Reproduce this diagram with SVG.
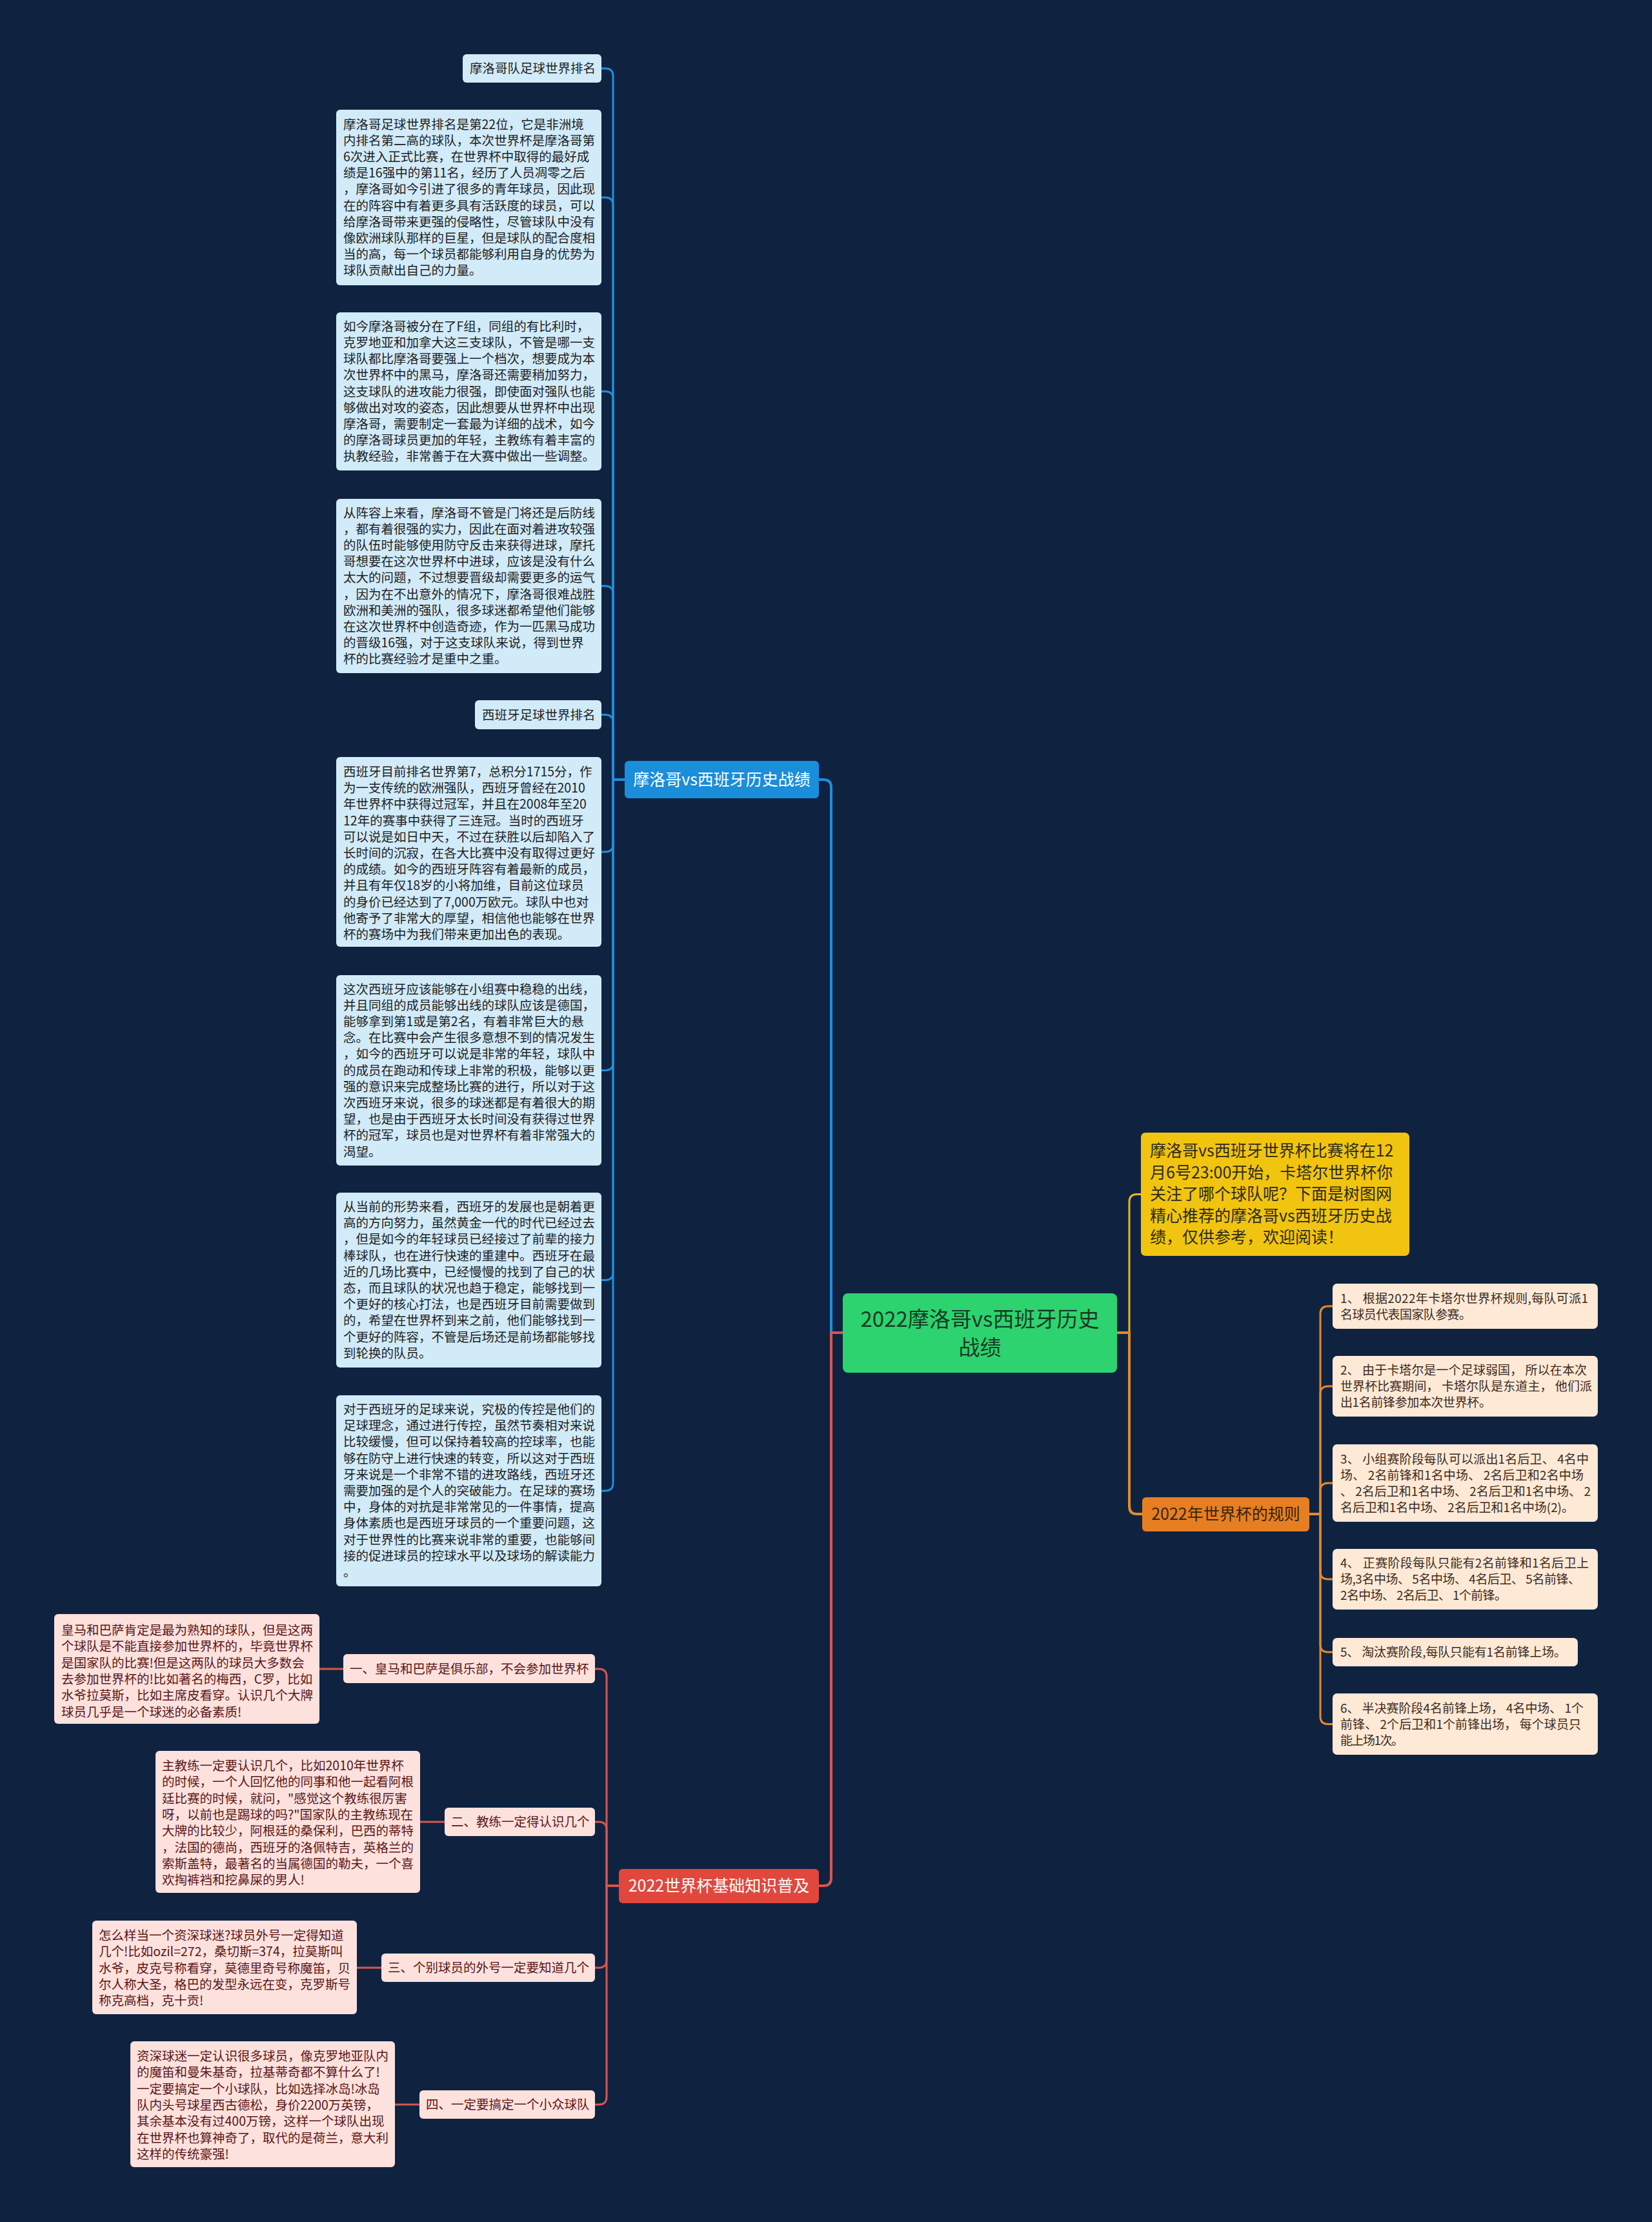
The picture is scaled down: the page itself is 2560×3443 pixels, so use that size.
<svg xmlns="http://www.w3.org/2000/svg" width="2560" height="3443" viewBox="0 0 2560 3443">
<style>
text{font-family:"Noto Sans CJK SC","Noto Sans",sans-serif}
.bg{fill:#0f2341}
.bnode{fill:#d1ebf8}
.bt{font-size:19.5px;fill:#1e2124}
.pnode{fill:#fce1dd}
.pt{font-size:19.5px;fill:#5a1616}
.onode{fill:#fde9d5}
.ot{font-size:19px;fill:#3c2a1e}
.c{fill:none;stroke-linecap:round;stroke-linejoin:round}
.cb{stroke:#1f8fdf;stroke-width:3}
.cbm{stroke:#1f8fdf;stroke-width:4}
.cr{stroke:#d9564d;stroke-width:3}
.crm{stroke:#d9564d;stroke-width:4}
.co{stroke:#e38a2c;stroke-width:3}
.com{stroke:#e38a2c;stroke-width:4}
.cy{stroke:#e6bb16;stroke-width:3}
</style>
<rect class="bg" x="0" y="0" width="2560" height="3443"/>

<g id="connectors">
  <!-- root to main branches -->
  <path class="c cbm" d="M1306 2065 H1288 V1220 Q1288 1208 1276 1208 H1269"/>
  <path class="c crm" d="M1306 2065 H1288 V2910 Q1288 2922 1276 2922 H1269"/>
  <path class="c cy" d="M1731 2065 H1750 V1862.5 Q1750 1850.5 1762 1850.5 H1768"/>
  <path class="c com" d="M1731 2065 H1750 V2334 Q1750 2346 1762 2346 H1770"/>
  <!-- blue subtree -->
  <path class="c cb" d="M968 1208 H950 V118 Q950 106 938 106 H932"/>
  <path class="c cb" d="M968 1208 H950 V318 Q950 306 938 306 H932"/>
  <path class="c cb" d="M968 1208 H950 V618.5 Q950 606.5 938 606.5 H932"/>
  <path class="c cb" d="M968 1208 H950 V920 Q950 908 938 908 H932"/>
  <path class="c cb" d="M968 1208 H950 V1119.5 Q950 1107.5 938 1107.5 H932"/>
  <path class="c cb" d="M968 1208 H950 V1308 Q950 1320 938 1320 H932"/>
  <path class="c cb" d="M968 1208 H950 V1646.5 Q950 1658.5 938 1658.5 H932"/>
  <path class="c cb" d="M968 1208 H950 V1971.5 Q950 1983.5 938 1983.5 H932"/>
  <path class="c cb" d="M968 1208 H950 V2298 Q950 2310 938 2310 H932"/>
  <!-- red subtree -->
  <path class="c cr" d="M959 2922 H940 V2598 Q940 2586 928 2586 H922"/>
  <path class="c cr" d="M959 2922 H940 V2835 Q940 2823 928 2823 H922"/>
  <path class="c cr" d="M959 2922 H940 V3037 Q940 3049 928 3049 H922"/>
  <path class="c cr" d="M959 2922 H940 V3249 Q940 3261 928 3261 H922"/>
  <path class="c cr" d="M532 2586 H495"/>
  <path class="c cr" d="M689 2823 H651"/>
  <path class="c cr" d="M591 3049 H553"/>
  <path class="c cr" d="M650 3261 H612"/>
  <!-- orange subtree -->
  <path class="c co" d="M2029 2346 H2046 V2036 Q2046 2024 2058 2024 H2065"/>
  <path class="c co" d="M2029 2346 H2046 V2160 Q2046 2148 2058 2148 H2065"/>
  <path class="c co" d="M2029 2346 H2046 V2310 Q2046 2298 2058 2298 H2065"/>
  <path class="c co" d="M2029 2346 H2046 V2435 Q2046 2447 2058 2447 H2065"/>
  <path class="c co" d="M2029 2346 H2046 V2548 Q2046 2560 2058 2560 H2065"/>
  <path class="c co" d="M2029 2346 H2046 V2659.5 Q2046 2671.5 2058 2671.5 H2065"/>
</g>

<g id="root">
  <rect x="1306" y="2004" width="425" height="123" rx="8" fill="#2dd36f"/>
  <text x="1518.5" y="2056" font-size="33" fill="#173a24" text-anchor="middle">2022摩洛哥vs西班牙历史</text>
  <text x="1518.5" y="2100" font-size="33" fill="#173a24" text-anchor="middle">战绩</text>
</g>

<g id="branch-blue">
  <rect x="968" y="1179" width="301" height="58" rx="6" fill="#1a8ddb"/>
  <text x="1118.5" y="1217" font-size="25" fill="#ffffff" text-anchor="middle">摩洛哥vs西班牙历史战绩</text>
</g>

<g id="branch-red">
  <rect x="959" y="2896" width="310" height="53" rx="6" fill="#e2473d"/>
  <text x="1114" y="2931" font-size="25" fill="#ffffff" text-anchor="middle">2022世界杯基础知识普及</text>
</g>

<g id="branch-yellow">
  <rect x="1768" y="1755" width="416" height="191" rx="7" fill="#f1c40f"/>
  <text font-size="25" fill="#2b2a1c">
    <tspan x="1782" y="1792">摩洛哥vs西班牙世界杯比赛将在12</tspan>
    <tspan x="1782" dy="33.6">月6号23:00开始，卡塔尔世界杯你</tspan>
    <tspan x="1782" dy="33.6">关注了哪个球队呢？下面是树图网</tspan>
    <tspan x="1782" dy="33.6">精心推荐的摩洛哥vs西班牙历史战</tspan>
    <tspan x="1782" dy="33.6">绩，仅供参考，欢迎阅读！</tspan>
  </text>
</g>

<g id="branch-orange">
  <rect x="1770" y="2320" width="259" height="53" rx="6" fill="#e67e22"/>
  <text x="1899.5" y="2355" font-size="25" fill="#3a2208" text-anchor="middle">2022年世界杯的规则</text>
</g>

<g id="b1">
  <rect class="bnode" x="717" y="84" width="215" height="44" rx="6"/>
  <text class="bt" x="728" y="113">摩洛哥队足球世界排名</text>
</g>
<g id="b2">
  <rect class="bnode" x="521" y="170" width="411" height="272" rx="6"/>
  <text class="bt">
    <tspan x="532" y="199.6">摩洛哥足球世界排名是第22位，它是非洲境</tspan>
    <tspan x="532" dy="25.2">内排名第二高的球队，本次世界杯是摩洛哥第</tspan>
    <tspan x="532" dy="25.2">6次进入正式比赛，在世界杯中取得的最好成</tspan>
    <tspan x="532" dy="25.2">绩是16强中的第11名，经历了人员凋零之后</tspan>
    <tspan x="532" dy="25.2">，摩洛哥如今引进了很多的青年球员，因此现</tspan>
    <tspan x="532" dy="25.2">在的阵容中有着更多具有活跃度的球员，可以</tspan>
    <tspan x="532" dy="25.2">给摩洛哥带来更强的侵略性，尽管球队中没有</tspan>
    <tspan x="532" dy="25.2">像欧洲球队那样的巨星，但是球队的配合度相</tspan>
    <tspan x="532" dy="25.2">当的高，每一个球员都能够利用自身的优势为</tspan>
    <tspan x="532" dy="25.2">球队贡献出自己的力量。</tspan>
  </text>
</g>
<g id="b3">
  <rect class="bnode" x="521" y="484" width="411" height="245" rx="6"/>
  <text class="bt">
    <tspan x="532" y="512.7">如今摩洛哥被分在了F组，同组的有比利时，</tspan>
    <tspan x="532" dy="25.2">克罗地亚和加拿大这三支球队，不管是哪一支</tspan>
    <tspan x="532" dy="25.2">球队都比摩洛哥要强上一个档次，想要成为本</tspan>
    <tspan x="532" dy="25.2">次世界杯中的黑马，摩洛哥还需要稍加努力，</tspan>
    <tspan x="532" dy="25.2">这支球队的进攻能力很强，即使面对强队也能</tspan>
    <tspan x="532" dy="25.2">够做出对攻的姿态，因此想要从世界杯中出现</tspan>
    <tspan x="532" dy="25.2">摩洛哥，需要制定一套最为详细的战术，如今</tspan>
    <tspan x="532" dy="25.2">的摩洛哥球员更加的年轻，主教练有着丰富的</tspan>
    <tspan x="532" dy="25.2">执教经验，非常善于在大赛中做出一些调整。</tspan>
  </text>
</g>
<g id="b4">
  <rect class="bnode" x="521" y="773" width="411" height="270" rx="6"/>
  <text class="bt">
    <tspan x="532" y="801.6">从阵容上来看，摩洛哥不管是门将还是后防线</tspan>
    <tspan x="532" dy="25.2">，都有着很强的实力，因此在面对着进攻较强</tspan>
    <tspan x="532" dy="25.2">的队伍时能够使用防守反击来获得进球，摩托</tspan>
    <tspan x="532" dy="25.2">哥想要在这次世界杯中进球，应该是没有什么</tspan>
    <tspan x="532" dy="25.2">太大的问题，不过想要晋级却需要更多的运气</tspan>
    <tspan x="532" dy="25.2">，因为在不出意外的情况下，摩洛哥很难战胜</tspan>
    <tspan x="532" dy="25.2">欧洲和美洲的强队，很多球迷都希望他们能够</tspan>
    <tspan x="532" dy="25.2">在这次世界杯中创造奇迹，作为一匹黑马成功</tspan>
    <tspan x="532" dy="25.2">的晋级16强，对于这支球队来说，得到世界</tspan>
    <tspan x="532" dy="25.2">杯的比赛经验才是重中之重。</tspan>
  </text>
</g>
<g id="b5">
  <rect class="bnode" x="736" y="1085" width="196" height="45" rx="6"/>
  <text class="bt" x="747" y="1114.5">西班牙足球世界排名</text>
</g>
<g id="b6">
  <rect class="bnode" x="521" y="1173" width="411" height="294" rx="6"/>
  <text class="bt">
    <tspan x="532" y="1203">西班牙目前排名世界第7，总积分1715分，作</tspan>
    <tspan x="532" dy="25.2">为一支传统的欧洲强队，西班牙曾经在2010</tspan>
    <tspan x="532" dy="25.2">年世界杯中获得过冠军，并且在2008年至20</tspan>
    <tspan x="532" dy="25.2">12年的赛事中获得了三连冠。当时的西班牙</tspan>
    <tspan x="532" dy="25.2">可以说是如日中天，不过在获胜以后却陷入了</tspan>
    <tspan x="532" dy="25.2">长时间的沉寂，在各大比赛中没有取得过更好</tspan>
    <tspan x="532" dy="25.2">的成绩。如今的西班牙阵容有着最新的成员，</tspan>
    <tspan x="532" dy="25.2">并且有年仅18岁的小将加维，目前这位球员</tspan>
    <tspan x="532" dy="25.2">的身价已经达到了7,000万欧元。球队中也对</tspan>
    <tspan x="532" dy="25.2">他寄予了非常大的厚望，相信他也能够在世界</tspan>
    <tspan x="532" dy="25.2">杯的赛场中为我们带来更加出色的表现。</tspan>
  </text>
</g>
<g id="b7">
  <rect class="bnode" x="521" y="1511" width="411" height="295" rx="6"/>
  <text class="bt">
    <tspan x="532" y="1539.5">这次西班牙应该能够在小组赛中稳稳的出线，</tspan>
    <tspan x="532" dy="25.2">并且同组的成员能够出线的球队应该是德国，</tspan>
    <tspan x="532" dy="25.2">能够拿到第1或是第2名，有着非常巨大的悬</tspan>
    <tspan x="532" dy="25.2">念。在比赛中会产生很多意想不到的情况发生</tspan>
    <tspan x="532" dy="25.2">，如今的西班牙可以说是非常的年轻，球队中</tspan>
    <tspan x="532" dy="25.2">的成员在跑动和传球上非常的积极，能够以更</tspan>
    <tspan x="532" dy="25.2">强的意识来完成整场比赛的进行，所以对于这</tspan>
    <tspan x="532" dy="25.2">次西班牙来说，很多的球迷都是有着很大的期</tspan>
    <tspan x="532" dy="25.2">望，也是由于西班牙太长时间没有获得过世界</tspan>
    <tspan x="532" dy="25.2">杯的冠军，球员也是对世界杯有着非常强大的</tspan>
    <tspan x="532" dy="25.2">渴望。</tspan>
  </text>
</g>
<g id="b8">
  <rect class="bnode" x="521" y="1848" width="411" height="271" rx="6"/>
  <text class="bt">
    <tspan x="532" y="1877">从当前的形势来看，西班牙的发展也是朝着更</tspan>
    <tspan x="532" dy="25.2">高的方向努力，虽然黄金一代的时代已经过去</tspan>
    <tspan x="532" dy="25.2">，但是如今的年轻球员已经接过了前辈的接力</tspan>
    <tspan x="532" dy="25.2">棒球队，也在进行快速的重建中。西班牙在最</tspan>
    <tspan x="532" dy="25.2">近的几场比赛中，已经慢慢的找到了自己的状</tspan>
    <tspan x="532" dy="25.2">态，而且球队的状况也趋于稳定，能够找到一</tspan>
    <tspan x="532" dy="25.2">个更好的核心打法，也是西班牙目前需要做到</tspan>
    <tspan x="532" dy="25.2">的，希望在世界杯到来之前，他们能够找到一</tspan>
    <tspan x="532" dy="25.2">个更好的阵容，不管是后场还是前场都能够找</tspan>
    <tspan x="532" dy="25.2">到轮换的队员。</tspan>
  </text>
</g>
<g id="b9">
  <rect class="bnode" x="521" y="2162" width="411" height="296" rx="6"/>
  <text class="bt">
    <tspan x="532" y="2191">对于西班牙的足球来说，究极的传控是他们的</tspan>
    <tspan x="532" dy="25.2">足球理念，通过进行传控，虽然节奏相对来说</tspan>
    <tspan x="532" dy="25.2">比较缓慢，但可以保持着较高的控球率，也能</tspan>
    <tspan x="532" dy="25.2">够在防守上进行快速的转变，所以这对于西班</tspan>
    <tspan x="532" dy="25.2">牙来说是一个非常不错的进攻路线，西班牙还</tspan>
    <tspan x="532" dy="25.2">需要加强的是个人的突破能力。在足球的赛场</tspan>
    <tspan x="532" dy="25.2">中，身体的对抗是非常常见的一件事情，提高</tspan>
    <tspan x="532" dy="25.2">身体素质也是西班牙球员的一个重要问题，这</tspan>
    <tspan x="532" dy="25.2">对于世界性的比赛来说非常的重要，也能够间</tspan>
    <tspan x="532" dy="25.2">接的促进球员的控球水平以及球场的解读能力</tspan>
    <tspan x="532" dy="25.2">。</tspan>
  </text>
</g>

<g id="p1">
  <rect class="pnode" x="532" y="2563" width="390" height="45" rx="6"/>
  <text class="pt" x="542" y="2593">一、皇马和巴萨是俱乐部，不会参加世界杯</text>
</g>
<g id="p1d">
  <rect class="pnode" x="84" y="2501" width="411" height="170" rx="6"/>
  <text class="pt">
    <tspan x="95" y="2533">皇马和巴萨肯定是最为熟知的球队，但是这两</tspan>
    <tspan x="95" dy="25.3">个球队是不能直接参加世界杯的，毕竟世界杯</tspan>
    <tspan x="95" dy="25.3">是国家队的比赛!但是这两队的球员大多数会</tspan>
    <tspan x="95" dy="25.3">去参加世界杯的!比如著名的梅西，C罗，比如</tspan>
    <tspan x="95" dy="25.3">水爷拉莫斯，比如主席皮看穿。认识几个大牌</tspan>
    <tspan x="95" dy="25.3">球员几乎是一个球迷的必备素质!</tspan>
  </text>
</g>
<g id="p2">
  <rect class="pnode" x="689" y="2801" width="233" height="44" rx="6"/>
  <text class="pt" x="699" y="2830">二、教练一定得认识几个</text>
</g>
<g id="p2d">
  <rect class="pnode" x="241" y="2713" width="410" height="220" rx="6"/>
  <text class="pt">
    <tspan x="251" y="2743">主教练一定要认识几个，比如2010年世界杯</tspan>
    <tspan x="251" dy="25.3">的时候，一个人回忆他的同事和他一起看阿根</tspan>
    <tspan x="251" dy="25.3">廷比赛的时候，就问，"感觉这个教练很厉害</tspan>
    <tspan x="251" dy="25.3">呀，以前也是踢球的吗?"国家队的主教练现在</tspan>
    <tspan x="251" dy="25.3">大牌的比较少，阿根廷的桑保利，巴西的蒂特</tspan>
    <tspan x="251" dy="25.3">，法国的德尚，西班牙的洛佩特吉，英格兰的</tspan>
    <tspan x="251" dy="25.3">索斯盖特，最著名的当属德国的勒夫，一个喜</tspan>
    <tspan x="251" dy="25.3">欢掏裤裆和挖鼻屎的男人!</tspan>
  </text>
</g>
<g id="p3">
  <rect class="pnode" x="591" y="3027" width="331" height="44" rx="6"/>
  <text class="pt" x="601" y="3056">三、个别球员的外号一定要知道几个</text>
</g>
<g id="p3d">
  <rect class="pnode" x="143" y="2976" width="410" height="145" rx="6"/>
  <text class="pt">
    <tspan x="153" y="3006">怎么样当一个资深球迷?球员外号一定得知道</tspan>
    <tspan x="153" dy="25.3">几个!比如ozil=272，桑切斯=374，拉莫斯叫</tspan>
    <tspan x="153" dy="25.3">水爷，皮克号称看穿，莫德里奇号称魔笛，贝</tspan>
    <tspan x="153" dy="25.3">尔人称大圣，格巴的发型永远在变，克罗斯号</tspan>
    <tspan x="153" dy="25.3">称克高档，克十贡!</tspan>
  </text>
</g>
<g id="p4">
  <rect class="pnode" x="650" y="3239" width="272" height="44" rx="6"/>
  <text class="pt" x="660" y="3268">四、一定要搞定一个小众球队</text>
</g>
<g id="p4d">
  <rect class="pnode" x="202" y="3163" width="410" height="195" rx="6"/>
  <text class="pt">
    <tspan x="212" y="3193">资深球迷一定认识很多球员，像克罗地亚队内</tspan>
    <tspan x="212" dy="25.3">的魔笛和曼朱基奇，拉基蒂奇都不算什么了!</tspan>
    <tspan x="212" dy="25.3">一定要搞定一个小球队，比如选择冰岛!冰岛</tspan>
    <tspan x="212" dy="25.3">队内头号球星西古德松，身价2200万英镑，</tspan>
    <tspan x="212" dy="25.3">其余基本没有过400万镑，这样一个球队出现</tspan>
    <tspan x="212" dy="25.3">在世界杯也算神奇了，取代的是荷兰，意大利</tspan>
    <tspan x="212" dy="25.3">这样的传统豪强!</tspan>
  </text>
</g>

<g id="o1">
  <rect class="onode" x="2065" y="1989" width="411" height="70" rx="7"/>
  <text class="ot">
    <tspan x="2077" y="2018.5" textLength="384" lengthAdjust="spacing">1、 根据2022年卡塔尔世界杯规则,每队可派1</tspan>
    <tspan x="2077" dy="25" textLength="203" lengthAdjust="spacing">名球员代表国家队参赛。</tspan>
  </text>
</g>
<g id="o2">
  <rect class="onode" x="2065" y="2101" width="411" height="94" rx="7"/>
  <text class="ot">
    <tspan x="2077" y="2130" textLength="382" lengthAdjust="spacing">2、 由于卡塔尔是一个足球弱国， 所以在本次</tspan>
    <tspan x="2077" dy="25" textLength="390" lengthAdjust="spacing">世界杯比赛期间， 卡塔尔队是东道主， 他们派</tspan>
    <tspan x="2077" dy="25" textLength="234" lengthAdjust="spacing">出1名前锋参加本次世界杯。</tspan>
  </text>
</g>
<g id="o3">
  <rect class="onode" x="2065" y="2238" width="411" height="120" rx="7"/>
  <text class="ot">
    <tspan x="2077" y="2267.5" textLength="385" lengthAdjust="spacing">3、 小组赛阶段每队可以派出1名后卫、 4名中</tspan>
    <tspan x="2077" dy="25" textLength="377" lengthAdjust="spacing">场、 2名前锋和1名中场、 2名后卫和2名中场</tspan>
    <tspan x="2077" dy="25" textLength="388" lengthAdjust="spacing">、 2名后卫和1名中场、 2名后卫和1名中场、 2</tspan>
    <tspan x="2077" dy="25" textLength="362" lengthAdjust="spacing">名后卫和1名中场、 2名后卫和1名中场(2)。</tspan>
  </text>
</g>
<g id="o4">
  <rect class="onode" x="2065" y="2400" width="411" height="94" rx="7"/>
  <text class="ot">
    <tspan x="2077" y="2429" textLength="385" lengthAdjust="spacing">4、 正赛阶段每队只能有2名前锋和1名后卫上</tspan>
    <tspan x="2077" dy="25" textLength="372" lengthAdjust="spacing">场,3名中场、 5名中场、 4名后卫、 5名前锋、</tspan>
    <tspan x="2077" dy="25" textLength="258" lengthAdjust="spacing">2名中场、 2名后卫、 1个前锋。</tspan>
  </text>
</g>
<g id="o5">
  <rect class="onode" x="2065" y="2538" width="380" height="44" rx="7"/>
  <text class="ot">
    <tspan x="2077" y="2567" textLength="350" lengthAdjust="spacing">5、 淘汰赛阶段,每队只能有1名前锋上场。</tspan>
  </text>
</g>
<g id="o6">
  <rect class="onode" x="2065" y="2624" width="411" height="95" rx="7"/>
  <text class="ot">
    <tspan x="2077" y="2653.5" textLength="377" lengthAdjust="spacing">6、 半决赛阶段4名前锋上场， 4名中场、 1个</tspan>
    <tspan x="2077" dy="25" textLength="373" lengthAdjust="spacing">前锋、 2个后卫和1个前锋出场， 每个球员只</tspan>
    <tspan x="2077" dy="25" textLength="98" lengthAdjust="spacing">能上场1次。</tspan>
  </text>
</g>
</svg>
